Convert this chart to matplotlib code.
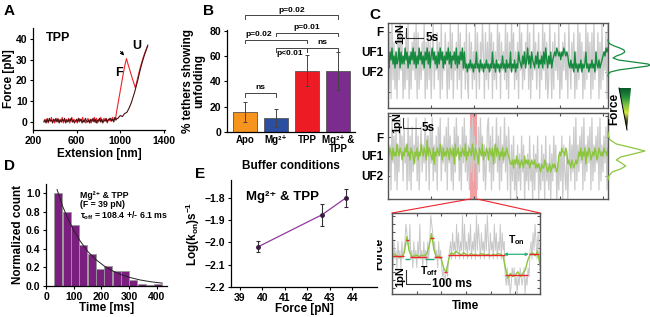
import numpy as np
import matplotlib.pyplot as plt
from matplotlib.patches import Polygon, ConnectionPatch
from matplotlib.colors import LinearSegmentedColormap

plt.rcParams["font.family"] = ["Liberation Sans", "DejaVu Sans"]
plt.rcParams["font.weight"] = "bold"
plt.rcParams["axes.labelweight"] = "bold"
plt.rcParams["font.size"] = 7
plt.rcParams["mathtext.fontset"] = "custom"
plt.rcParams["mathtext.rm"] = "Liberation Sans:bold"
plt.rcParams["mathtext.it"] = "Liberation Sans:bold"
plt.rcParams["mathtext.bf"] = "Liberation Sans:bold"
plt.rcParams["axes.linewidth"] = 0.9

# ---------------- data ----------------
# A: force-extension, noisy baseline as digit levels (0..9)
red_noise = "4637254836254736482536472583645273648352473625483726483574625746856"
dark_noise = "35263745264736253647253647352463746253743526473625473625473657463857"
red_ext = [958, 970, 990, 1010, 1030, 1045, 1057, 1070, 1090, 1110, 1125, 1138,
           1150, 1170, 1190, 1210, 1230, 1250]
red_force = [2, 6, 12, 18, 24, 28, 30.5, 28, 24.5, 21, 18.5, 16.4,
             19, 23.5, 27.5, 31, 34, 36.5]
dark_ext = [976, 1000, 1020, 1040, 1060, 1080, 1100, 1115, 1130, 1145, 1160, 1180,
            1200, 1220, 1240, 1252]
dark_force = [1.5, 3, 2.5, 4, 4.5, 6.5, 9, 11.5, 14, 17, 20, 24.5, 28.5, 32, 35, 37]

# B: % tethers showing unfolding
conditions = ["Apo", "Mg²⁺", "TPP", "Mg²⁺ &\nTPP"]
pct_unfold = [16, 11, 48.5, 48]
pct_err = [7.8, 7, 12, 15]
bar_colors = ["#F7941D", "#2B4EA2", "#ED1C24", "#7B2C8E"]
# (left bar, right bar, height, label)
brackets = [(1, 2, 30.5, "ns"), (2, 3, 66.5, "p<0.01"), (3, 4, 66.5, "ns"),
            (1, 3, 73, "p=0.02"), (2, 4, 78.5, "p=0.01"), (1, 4, 92, "p=0.02")]

# C: force traces (digit levels)
top_gray = ("62819372618394715283" "91627483918263749172" "83715926483719264851"
            "72938164729381647293" "18472639185274961837" "29481736295817463928"
            "17495826371948263759" "28163947258163948271" "39517284639152748361"
            "95274816293847162938" "47182936481729364819")
top_green = ("54869574856948575968" "47586958475968574869" "58479685748596847586"
             "95847685947586948"
             "45354645354845364535" "46453548453645354745" "36454835463"
             "54865475846957486547" "58465748596475846"
             "787987868798787"
             "54645384535463545845" "3546453854645"
             "6787989")
bot_gray = ("83619472816395728461" "92718364927158364927" "71849263718592647381"
            "94726183957261849372" "61839274618395726148" "93718264937182649371" "8"
            "50627140625173604251" "72406153704162507241" "60527360415270631504"
            "72638192637481926374" "8192637481926374819")
bot_green = ("65764756586576465768" "56476536574658657649" "57654736576586475657"
             "64765738567465765846" "57658647653765846576" "47657368576465746576" "5"
             "4334243534234325343423433423"
             "232132243212312323212"
             "565766576"
             "34324323434"
             "657465736576456576457656576657")
shade_span = (0.373, 0.405)
top_hist_lvl = [1.6, 1.5, 1.4, 1.3, 1.2, 1.1, 1.0, 0.9, 0.8, 0.7, 0.6, 0.5, 0.4,
                0.35, 0.3, 0.2, 0.1, 0.0, -0.1, -0.2]
top_hist_cnt = [0.0, 0.01, 0.05, 0.15, 0.28, 0.38, 0.40, 0.33, 0.2, 0.12, 0.25, 0.6,
                0.95, 1.0, 0.95, 0.6, 0.25, 0.06, 0.01, 0.0]
bot_hist_lvl = [2.2, 2.0, 1.8, 1.6, 1.4, 1.25, 1.1, 0.95, 0.8, 0.65, 0.5, 0.35, 0.2,
                0.0, -0.2]
bot_hist_cnt = [0.0, 0.01, 0.05, 0.2, 0.6, 0.88, 0.6, 0.3, 0.2, 0.32, 0.42, 0.3, 0.1,
                0.02, 0.0]

# C inset (zoom)
inset_gray = ("5364536453645" "687658" "4536453648453645364" "698756" "4536453"
              "2312324"
              "56475648574659485647" "58465749586475648596" "4756485746584756"
              "2131201323120213212302132" "56475864753")
inset_green = [0.05, 0.1, 0.0, -0.1, -0.05, 0.2, 1.2, 0.3, -0.05, 0.0, 0.05, -0.05,
               0.05, 0.0, 0.1, 0.6, 1.4, 0.4, -0.1, 0.0, -0.2, -0.8, -1.0, -0.2, 0.2,
               0.1, 0.3, 0.15, 0.05, 0.2, 0.1, 0.0, 0.15, 0.05, 0.1, 0.0, 0.15, 0.1,
               0.05, 0.1, 0.0, 0.1, 0.05, 0.15, 0.1, 0.0, -0.8, -1.4, -1.1, -1.3, -1.2,
               -1.0, -1.3, -1.1, -0.9, -0.3, 0.1, 0.2, 0.0, 0.3, -0.6]
step_x0 = [0, 57, 73, 154, 170, 211, 227, 458, 555, 596]
step_x1 = [49, 69, 142, 170, 203, 223, 458, 551, 595, 600]
step_y = [0.0, 1.03, -0.05, 1.15, -0.08, -1.0, 0.05, -1.2, 0.1, -0.8]
toff_x0 = [53, 134]
toff_x1 = [73, 170]
ton_span = (453, 555)

# D: dwell-time histogram
dwell_t = [45, 75, 105, 135, 165, 195, 225, 255, 285, 315, 345, 375, 405]
dwell_count = [1.0, 0.80, 0.66, 0.44, 0.34, 0.18, 0.22, 0.16, 0.16, 0.06, 0.02, 0.01, 0.02]
fit_t = [40, 60, 80, 100, 120, 150, 180, 210, 240, 270, 300, 340, 380, 420]
fit_y = [1.04, 0.86, 0.72, 0.60, 0.50, 0.375, 0.285, 0.216, 0.164, 0.124, 0.094,
         0.065, 0.045, 0.031]

# E: log(kon) vs force
force_pn = [39.8, 42.65, 43.72]
log_kon = [-2.02, -1.876, -1.80]
log_kon_err = [0.025, 0.05, 0.04]


def levels(s, lo, step):
    return np.array([lo + int(c) * step for c in s])


W, H = 650, 317


def box(l, t, r, b):
    return [l / W, 1 - b / H, (r - l) / W, (b - t) / H]


fig = plt.figure(figsize=(6.5, 3.17), dpi=100)

# ---------------- A ----------------
axA = fig.add_axes(box(33, 28, 165, 130))
xr = np.concatenate([np.linspace(300, 950, len(red_noise)), red_ext])
yr = np.concatenate([levels(red_noise, -1.5, 0.45), red_force])
xd = np.concatenate([np.linspace(300, 970, len(dark_noise)), dark_ext])
yd = np.concatenate([levels(dark_noise, -1.5, 0.45), dark_force])
axA.plot(xr, yr, color="#F0232D", lw=0.8)
axA.plot(xd, yd, color="#4A1212", lw=0.8)
axA.set_xlim(200, 1410)
axA.set_ylim(-4, 45.3)
axA.set_xticks([200, 600, 1000, 1400])
axA.set_yticks([0, 10, 20, 30, 40])
axA.spines[["top", "right"]].set_visible(False)
axA.tick_params(labelsize=7.5, length=2.5, pad=1.5)
axA.set_xlabel("Extension [nm]", fontsize=8.5, labelpad=2)
axA.set_ylabel("Force [pN]", fontsize=8.5, labelpad=1)
axA.text(0.1, 0.9, "TPP", transform=axA.transAxes, fontsize=9, va="center")
axA.annotate("", xy=(1052, 31), xytext=(985, 35),
             arrowprops=dict(arrowstyle="-|>", color="k", lw=0.7, mutation_scale=5))
axA.text(985, 23.5, "F", fontsize=9, ha="center", va="center")
axA.text(1150, 36.5, "U", fontsize=9, ha="center", va="center")

# ---------------- B ----------------
axB = fig.add_axes(box(227, 30, 355, 132))
pos = np.arange(1, len(conditions) + 1)
axB.bar(pos, pct_unfold, width=0.78, color=bar_colors, edgecolor="#555555", lw=0.6)
axB.errorbar(pos, pct_unfold, yerr=pct_err, fmt="none", ecolor="#444444",
             elinewidth=0.7, capsize=1.5, capthick=0.7)
axB.set_xlim(0.42, 4.55)
axB.set_ylim(0, 80.5)
axB.set_yticks([0, 20, 40, 60, 80])
axB.set_xticks(pos)
axB.set_xticklabels(conditions, fontsize=7, linespacing=0.9)
axB.tick_params(axis="y", labelsize=7.5, length=2.5, pad=1.5)
axB.tick_params(axis="x", length=0, pad=2)
axB.spines[["top", "right"]].set_visible(False)
axB.set_ylabel("% tethers showing\nunfolding", fontsize=8.5, labelpad=3, linespacing=0.95)
axB.set_xlabel("Buffer conditions", fontsize=8.5, labelpad=4)
for x1, x2, yb, lab in brackets:
    axB.plot([x1, x1, x2, x2], [yb - 3, yb, yb, yb - 3], color="#444444", lw=0.7,
             clip_on=False)
    if lab == "p<0.01":
        axB.text(x1 + 0.02, yb - 1.5, lab, fontsize=6, ha="left", va="top")
    elif (x1, x2) == (1, 3):
        axB.text(x1, yb + 1.5, lab, fontsize=6, ha="left", va="bottom")
    else:
        axB.text((x1 + x2) / 2, yb + 1.5, lab, fontsize=6, ha="center", va="bottom")


# ---------------- C ----------------
def trace_axes(rect):
    ax = fig.add_axes(rect)
    for sp in ax.spines.values():
        sp.set_color("#555555")
        sp.set_linewidth(1.0)
    ax.tick_params(direction="in", length=2.5, top=True, right=True, color="#555555",
                   labelsize=8.5, pad=3)
    return ax


def scale_bar(ax, x, y0, y1, x1, ylab, xlab, fs=8.5):
    ax.plot([x, x, x1], [y0, y1, y1], color="#333333", lw=0.8, transform=ax.transAxes,
            clip_on=False)
    ax.text(x1 + 0.01, y1, xlab, transform=ax.transAxes, fontsize=fs, va="center",
            ha="left")
    ax.text(x - 0.005, (y0 + y1) / 2, ylab, transform=ax.transAxes, fontsize=fs - 0.5,
            rotation=90, va="center", ha="right")


axCt = trace_axes(box(388, 23, 608, 108))
gt = levels(top_gray, -1.8, 0.47)
gg = levels(top_green, -0.6, 0.2)
axCt.plot(np.linspace(0, 1, len(gt)), gt, color="#CBCBCB", lw=0.9)
axCt.plot(np.linspace(0, 1, len(gg)), gg, color="#168A3E", lw=1.0)
axCt.set_xlim(0, 1)
axCt.set_ylim(-1.8, 2.45)
axCt.set_yticks([-1, 0, 1, 2])
axCt.set_yticklabels(["", "UF2", "UF1", "F"])
axCt.set_xticks([0.195, 0.39, 0.585, 0.78, 0.975])
axCt.set_xticklabels([])
scale_bar(axCt, 0.083, 0.94, 0.82, 0.16, "1pN", "5s")

axCb = trace_axes(box(388, 113, 608, 199))
bg = levels(bot_gray, -1.15, 0.45)
bgr = levels(bot_green, 0.0, 0.2)
axCb.plot(np.linspace(0, 1, len(bg)), bg, color="#CBCBCB", lw=0.9)
axCb.plot(np.linspace(0, 1, len(bgr)), bgr, color="#8CC63F", lw=1.0)
axCb.axvspan(*shade_span, color="#E8505A", alpha=0.55, lw=0)
axCb.set_xlim(0, 1)
axCb.set_ylim(-1.15, 3.15)
axCb.set_yticks([0, 1.05, 1.95, 3])
axCb.set_yticklabels(["UF2", "UF1", "F", ""])
axCb.set_xticks([0.195, 0.39, 0.585, 0.78, 0.975])
axCb.set_xticklabels([])
scale_bar(axCb, 0.068, 0.94, 0.826, 0.145, "1pN", "5s")

# side histograms
axHt = fig.add_axes(box(608, 23, 650, 108))
axHt.plot(top_hist_cnt, top_hist_lvl, color="#168A3E", lw=0.9, clip_on=False)
axHt.set_ylim(axCt.get_ylim())
axHt.set_xlim(0, 1)
axHt.axis("off")
axHb = fig.add_axes(box(608, 113, 650, 199))
axHb.plot(bot_hist_cnt, bot_hist_lvl, color="#8CC63F", lw=0.9, clip_on=False)
axHb.set_ylim(axCb.get_ylim())
axHb.set_xlim(0, 1)
axHb.axis("off")

# inset
axI = trace_axes(box(392, 213, 540, 294))
ig = levels(inset_gray, -2.4, 0.55)
axI.plot(np.linspace(0, 600, len(ig)), ig, color="#C8C8C8", lw=0.7)
axI.plot(np.linspace(0, 600, len(inset_green)), inset_green, color="#8CC63F", lw=1.0)
axI.hlines(step_y, step_x0, step_x1, color="#F0232D", lw=1.0)
axI.hlines([-0.22] * len(toff_x0), toff_x0, toff_x1, color="#1FA37A", lw=1.0)
axI.annotate("", xy=(ton_span[0], 0.1), xytext=(ton_span[1], 0.1),
             arrowprops=dict(arrowstyle="<|-|>", color="#2DB37A", lw=0.9,
                             mutation_scale=4, shrinkA=0, shrinkB=0))
axI.text(150, -0.55, r"T$_{off}$", fontsize=7.5, ha="center", va="top")
axI.text(505, 0.55, r"T$_{on}$", fontsize=7.5, ha="center", va="bottom")
axI.set_xlim(0, 600)
axI.set_ylim(-2.4, 2.7)
axI.set_xticks(np.arange(0, 601, 100))
axI.set_yticks(np.arange(-2.0, 2.6, 0.5))
axI.set_xticklabels([])
axI.set_yticklabels([])
axI.set_xlabel("Time", fontsize=8.5, labelpad=1)
axI.set_ylabel("Force", fontsize=8.5, labelpad=2)
scale_bar(axI, 0.095, 0.30, 0.12, 0.26, "1pN", "100 ms")

for xa, xb in [(shade_span[0], 0), (shade_span[1], 1)]:
    con = ConnectionPatch(xyA=(xa, axCb.get_ylim()[0]), coordsA=axCb.transData,
                          xyB=(xb, 1), coordsB=axI.transAxes, color="#F0232D", lw=0.8)
    fig.add_artist(con)

# ---------------- D ----------------
axD = fig.add_axes(box(46, 184, 167, 286))
axD.bar(dwell_t, dwell_count, width=29, color="#7B1F7E", edgecolor="#9A9A9A", lw=0.6)
axD.plot(fit_t, fit_y, color="#222222", lw=0.7)
axD.set_xlim(0, 437)
axD.set_ylim(0, 1.1)
axD.set_xticks([0, 100, 200, 300, 400])
axD.set_yticks([0, 0.2, 0.4, 0.6, 0.8, 1.0])
axD.set_yticklabels(["0.0", "0.2", "0.4", "0.6", "0.8", "1.0"])
axD.spines[["top", "right"]].set_visible(False)
axD.tick_params(labelsize=7.5, length=2.5, pad=1.5)
axD.set_xlabel("Time [ms]", fontsize=8.5, labelpad=0)
axD.set_ylabel("Normalized count", fontsize=8.5, labelpad=1)
axD.text(0.28, 0.93, "Mg²⁺ & TPP\n(F = 39 pN)\n" + r"$\tau_{off}$ = 108.4 +/- 6.1 ms",
         transform=axD.transAxes, fontsize=6.3, va="top", ha="left", linespacing=1.05)

# ---------------- E ----------------
axE = fig.add_axes(box(231, 180, 377, 287))
axE.errorbar(force_pn, log_kon, yerr=log_kon_err, color="#8E3A9A", lw=0.9,
             marker="o", ms=2.5, mfc="#3A1A40", mec="#3A1A40", ecolor="#333333",
             elinewidth=0.8, capsize=1.5, capthick=0.8)
axE.set_xlim(38.6, 45.1)
axE.set_ylim(-2.2, -1.72)
axE.set_xticks([39, 40, 41, 42, 43, 44])
axE.set_yticks([-2.2, -2.1, -2.0, -1.9, -1.8])
axE.spines[["top", "right"]].set_visible(False)
axE.tick_params(labelsize=7.5, length=2.5, pad=1.5)
axE.set_xlabel("Force [pN]", fontsize=8.5, labelpad=0)
axE.set_ylabel(r"Log(k$_{on}$)s$^{-1}$", fontsize=8.5, labelpad=2)
axE.text(0.1, 0.84, "Mg²⁺ & TPP", transform=axE.transAxes, fontsize=9.5, va="center")

# ---------------- overlay: letters, colour wedge ----------------
ov = fig.add_axes([0, 0, 1, 1])
ov.set_xlim(0, W)
ov.set_ylim(H, 0)
ov.axis("off")
ov.patch.set_alpha(0)
for lab, x, y in [("A", 4, 11), ("B", 203, 11), ("C", 369, 15), ("D", 4, 166),
                  ("E", 195, 174)]:
    ov.text(x, y, lab, fontsize=11, ha="left", va="center")
wedge = Polygon([(619, 88), (631, 88), (627, 130)], closed=True, fc="none", ec="none")
ov.add_patch(wedge)
cmap = LinearSegmentedColormap.from_list(
    "wedge", ["#0B5A2A", "#1E8C3C", "#7DC242", "#D6E83A", "#3A3A10", "#000000"])
im = ov.imshow(np.linspace(0, 1, 100).reshape(-1, 1), cmap=cmap, aspect="auto",
               extent=(619, 631, 130, 88), origin="upper")
im.set_clip_path(wedge)
ov.plot([619, 627], [88, 130], color="k", lw=0.7)
ov.text(614, 109, "Force", rotation=90, fontsize=8.5, ha="center", va="center")

fig.savefig("out.png", dpi=100)
